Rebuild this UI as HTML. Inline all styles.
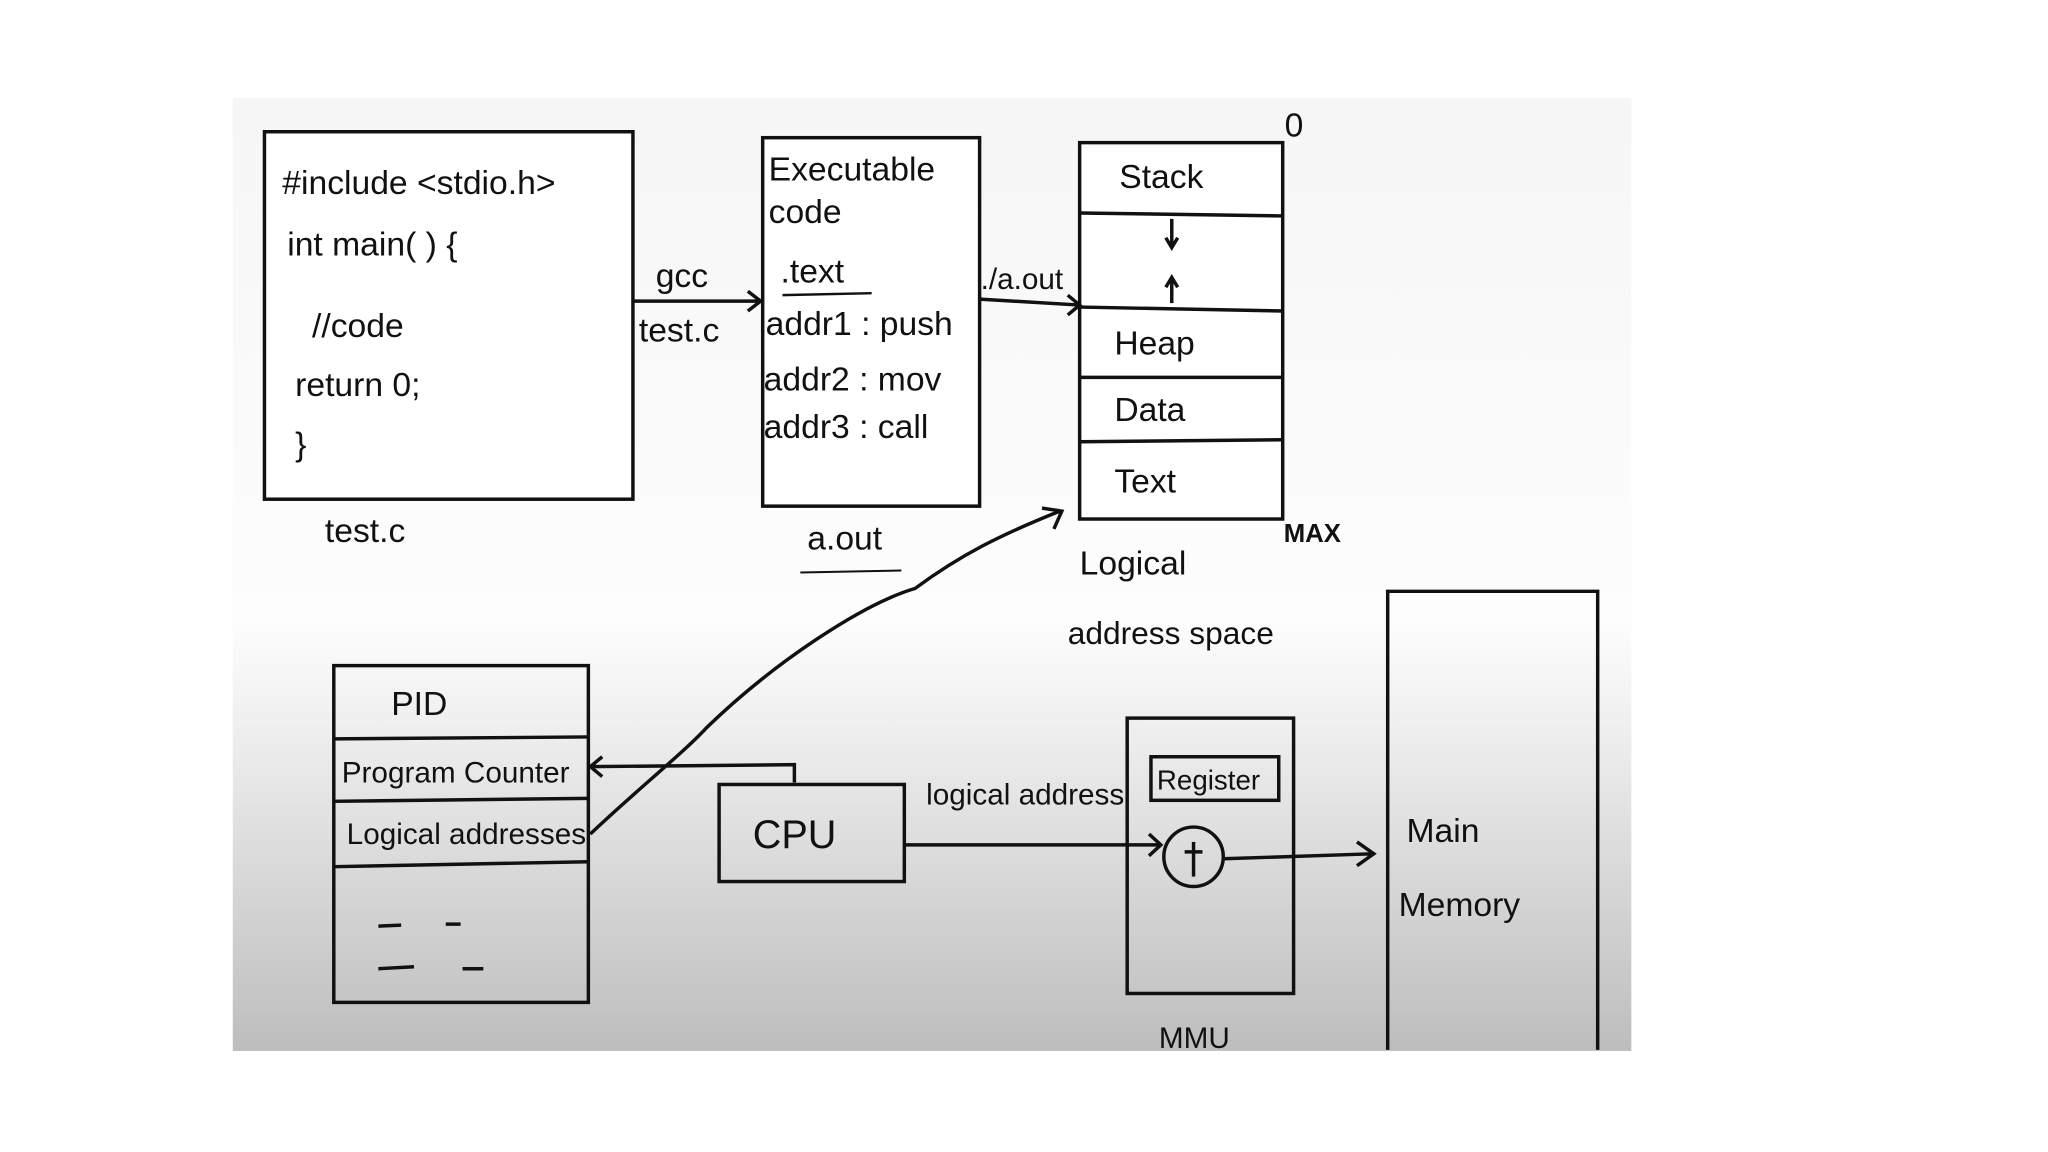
<!DOCTYPE html>
<html><head><meta charset="utf-8"><style>
html,body{margin:0;padding:0;background:#fff;}
svg{display:block;}
text{font-family:"Liberation Sans",sans-serif;fill:#111;}
</style></head><body>
<svg width="2048" height="1152" viewBox="0 0 2048 1152" xmlns="http://www.w3.org/2000/svg">
<defs>
<linearGradient id="g" x1="0" y1="0" x2="0" y2="1">
<stop offset="0" stop-color="#f6f6f6"/>
<stop offset="0.55" stop-color="#fdfdfd"/>
<stop offset="0.68" stop-color="#ececec"/>
<stop offset="1" stop-color="#bdbdbd"/>
</linearGradient>
</defs>
<g transform="scale(0.9905)">
<rect x="235" y="99" width="1412" height="962" fill="url(#g)"/>
<g fill="none" stroke="#111" stroke-width="3.5">
<rect x="267" y="133" width="372" height="371" fill="#fff"/>
<rect x="770" y="139" width="219" height="372" fill="#fff"/>
<rect x="1090" y="144" width="205" height="380" fill="#fff"/>
<line x1="1090" y1="215" x2="1295" y2="218"/>
<line x1="1090" y1="310" x2="1295" y2="314"/>
<line x1="1090" y1="381" x2="1295" y2="381"/>
<line x1="1090" y1="446" x2="1295" y2="444"/>
<path d="M1401 1060 V597 H1613 V1060"/>
<rect x="337" y="672" width="257" height="340"/>
<line x1="337" y1="746" x2="594" y2="744"/>
<line x1="337" y1="809" x2="594" y2="806"/>
<line x1="337" y1="875" x2="594" y2="870"/>
<rect x="726" y="792" width="187" height="98"/>
<rect x="1138" y="725" width="168" height="278"/>
<rect x="1162" y="764" width="129" height="44"/>
<circle cx="1205" cy="865" r="30"/>
<line x1="1205" y1="850" x2="1205" y2="885"/>
<line x1="1196" y1="860" x2="1214" y2="860"/>
<path d="M639 304 L768 304 M755 294 L768 304 L755 314"/>
<path d="M989 302 L1090 308 M1078 298 L1090 308 L1078 318"/>
<path d="M913 853 L1172 853 M1160 842 L1172 853 L1160 864"/>
<path d="M1235 867 L1385 862 M1370 850 L1387 862 L1370 874"/>
<path d="M802 790 V772 L596 774 M608 764 L596 774 L608 784"/>
<path d="M596 842 C640 800 690 760 713 735 C780 670 870 610 924 594 C970 560 1010 540 1070 516 M1052 513 L1072 516 L1064 534"/>
<line x1="1183" y1="221" x2="1183" y2="250"/>
<path d="M1177 240 L1183 250 L1189 240"/>
<line x1="1183" y1="306" x2="1183" y2="280"/>
<path d="M1177 290 L1183 280 L1189 290"/>
<line x1="790" y1="298" x2="880" y2="296" stroke-width="2.5"/>
<line x1="808" y1="578" x2="910" y2="576" stroke-width="2"/>
<line x1="382" y1="935" x2="405" y2="934"/><line x1="450" y1="933" x2="465" y2="933"/>
<line x1="382" y1="978" x2="418" y2="976"/><line x1="467" y1="978" x2="488" y2="978"/>
</g>
<g font-size="34">
<text x="285" y="196">#include &lt;stdio.h&gt;</text>
<text x="290" y="258">int main( ) {</text>
<text x="315" y="340">//code</text>
<text x="298" y="400">return 0;</text>
<text x="298" y="460">}</text>
<text x="328" y="547">test.c</text>
<text x="776" y="182">Executable</text>
<text x="776" y="225">code</text>
<text x="788" y="285">.text</text>
<text x="773" y="338">addr1 : push</text>
<text x="771" y="394">addr2 : mov</text>
<text x="771" y="442">addr3 : call</text>
<text x="815" y="555">a.out</text>
<text x="662" y="290">gcc</text>
<text x="645" y="345">test.c</text>
<text x="990" y="292" font-size="30">./a.out</text>
<text x="1130" y="190">Stack</text>
<text x="1125" y="358">Heap</text>
<text x="1125" y="425">Data</text>
<text x="1125" y="497">Text</text>
<text x="1297" y="138">0</text>
<text x="1296" y="547" font-size="26" font-weight="bold">MAX</text>
<text x="1090" y="580">Logical</text>
<text x="1078" y="650" font-size="32">address space</text>
<text x="395" y="722">PID</text>
<text x="345" y="790" font-size="30">Program Counter</text>
<text x="350" y="852" font-size="30">Logical addresses</text>
<text x="760" y="856" font-size="40">CPU</text>
<text x="935" y="812" font-size="30">logical address</text>
<text x="1168" y="797" font-size="28">Register</text>
<text x="1420" y="850">Main</text>
<text x="1412" y="925">Memory</text>
<text x="1170" y="1058" font-size="30">MMU</text>
</g>
</g>
</svg>
</body></html>
